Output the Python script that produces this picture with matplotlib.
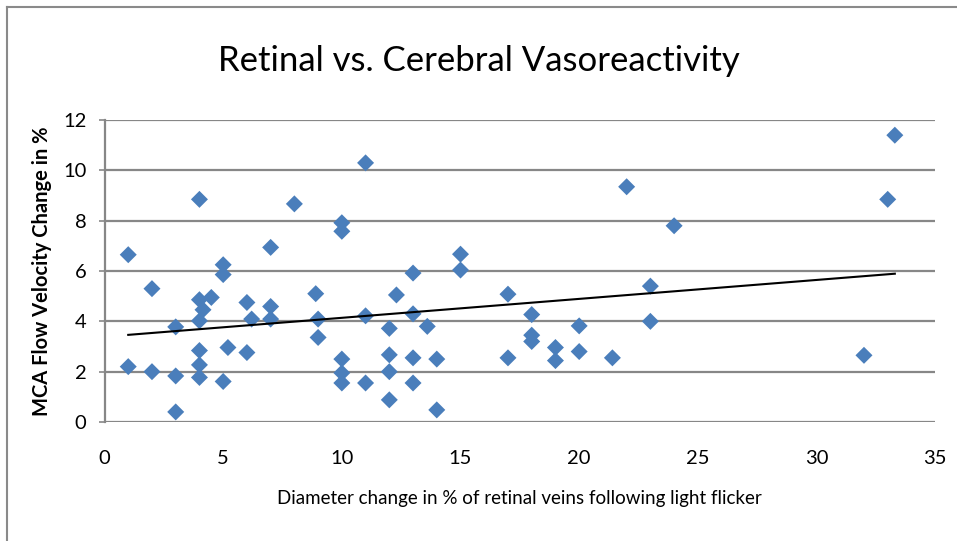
import numpy as np
import matplotlib
matplotlib.use("Agg")
import matplotlib.pyplot as plt
from matplotlib.lines import Line2D

# diameter change of retinal veins (%)
diameter = [1, 1, 2, 2, 3, 3, 3,
            4, 4, 4, 4, 4, 4, 4.15, 4.5,
            5, 5, 5, 5.2, 6, 6, 6.2,
            7, 7, 7, 8, 8.9, 9, 9,
            10, 10, 10, 10, 10, 11, 11, 11,
            12, 12, 12, 12, 12.3, 13, 13, 13, 13, 13.6, 14, 14,
            15, 15, 17, 17, 18, 18, 18, 19, 19, 20, 20, 21.4,
            22, 23, 23, 24, 32, 33, 33.3]
# MCA flow velocity change (%)
mca_flow = [6.65, 2.2, 2.0, 5.3, 3.78, 1.83, 0.4,
            8.85, 4.86, 4.02, 2.84, 2.27, 1.77, 4.46, 4.95,
            6.25, 5.86, 1.61, 2.96, 4.75, 2.76, 4.09,
            6.94, 4.59, 4.09, 8.67, 5.1, 4.09, 3.36,
            7.92, 7.58, 2.5, 1.95, 1.55, 10.3, 4.22, 1.55,
            3.72, 2.67, 2.0, 0.88, 5.05, 5.92, 4.3, 2.55, 1.55, 3.8, 2.5, 0.48,
            6.67, 6.04, 5.08, 2.55, 4.27, 3.45, 3.2, 2.96, 2.44, 3.82, 2.8, 2.55,
            9.35, 5.4, 4.0, 7.8, 2.65, 8.85, 11.4]

x_ticks = [0, 5, 10, 15, 20, 25, 30, 35]
y_ticks = [0, 2, 4, 6, 8, 10, 12]

plt.rcParams['font.family'] = ['Lato', 'DejaVu Sans']

grid_col = '#878787'

fig = plt.figure(figsize=(9.57, 5.41), dpi=100)
ax = fig.add_axes([0.1092, 0.22, 0.868, 0.558])

x = np.array(diameter)
y = np.array(mca_flow)
ax.scatter(x, y, marker='D', s=75, color='#4a7ebb', edgecolors='none', zorder=3)

# linear trendline across the data range
slope, intercept = np.polyfit(x, y, 1)
xs = np.array([x.min(), x.max()])
ax.plot(xs, slope * xs + intercept, color='black', lw=1.5, zorder=4)

ax.set_xlim(0, 35)
ax.set_ylim(0, 12)
ax.set_xticks(x_ticks)
ax.set_yticks(y_ticks)
ax.yaxis.grid(True, color=grid_col, lw=1.6)
ax.set_axisbelow(True)
for s in ['top', 'right', 'bottom']:
    ax.spines[s].set_visible(False)
ax.spines['left'].set_color(grid_col)
ax.spines['left'].set_linewidth(1.6)
ax.tick_params(axis='y', length=4, color=grid_col, width=1.2, labelsize=14.5, pad=9)
ax.tick_params(axis='x', length=0, labelsize=14.5, pad=20)

ax.set_xlabel('Diameter change in % of retinal veins following light flicker',
              fontsize=13.5, labelpad=17)
ax.set_ylabel('MCA Flow Velocity Change in %', fontsize=14.5, fontweight='bold',
              labelpad=8)
fig.text(0.5, 0.888, 'Retinal vs. Cerebral Vasoreactivity', ha='center', va='center',
         fontsize=25)

# outer frame (left and top edges only visible)
fig.add_artist(Line2D([7 / 957, 7 / 957], [0, 1 - 7 / 541], color='#8a8a8a', lw=1.5,
                      transform=fig.transFigure))
fig.add_artist(Line2D([7 / 957, 1], [1 - 7 / 541, 1 - 7 / 541], color='#8a8a8a', lw=1.5,
                      transform=fig.transFigure))

fig.savefig('out.png', dpi=100)
